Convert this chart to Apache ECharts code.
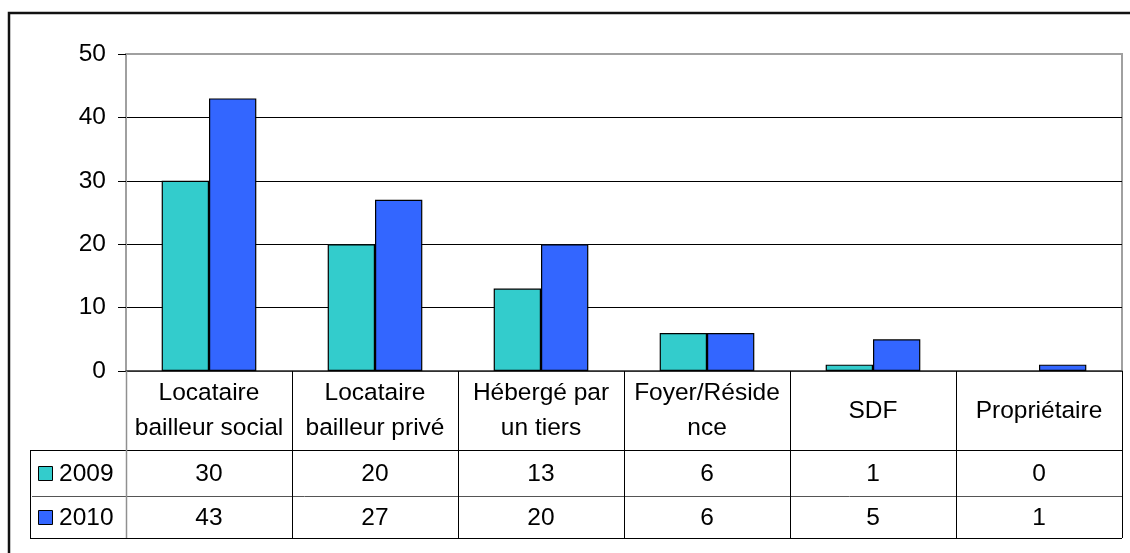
<!DOCTYPE html>
<html>
<head>
<meta charset="utf-8">
<script src="https://cdn.jsdelivr.net/npm/echarts@6/dist/echarts.min.js"></script>
<style>
html,body{margin:0;padding:0;background:#fff;}
#chart{width:1130px;height:553px;}
</style>
</head>
<body>
<div id="chart"></div>
<script>
// ---- data ----
const categories = ['Locataire\nbailleur social', 'Locataire\nbailleur privé', 'Hébergé par\nun tiers', 'Foyer/Réside\nnce', 'SDF', 'Propriétaire'];
const seriesNames = ['2009', '2010'];
const values2009 = [30, 20, 13, 6, 1, 0];
const values2010 = [43, 27, 20, 6, 5, 1];
const yMin = 0, yMax = 50, yStep = 10;

// ---- style ----
const colors = ['#33CCCC', '#3366FF'];
const FONT = '"Liberation Sans", Arial, sans-serif';
const FS = 24.5;

const chart = echarts.init(document.getElementById('chart'), null, {renderer: 'canvas'});

function barData(vals) {
  return vals.map(v => v === 0 ? {value: v, itemStyle: {borderWidth: 0}} : v);
}

const option = {
  animation: false,
  backgroundColor: '#fff',
  grid: {left: 126, right: 8, top: 54, bottom: 182, show: true, borderColor: '#a0a0a0', borderWidth: 2, backgroundColor: 'transparent'},
  xAxis: {
    type: 'category',
    data: categories,
    axisLine: {show: true, lineStyle: {color: '#404040', width: 1.5}},
    axisTick: {show: false},
    axisLabel: {interval: 0, margin: 40, verticalAlign: 'middle', lineHeight: 35, fontSize: FS, fontFamily: FONT, color: '#000'},
    splitLine: {show: false}
  },
  yAxis: {
    type: 'value', min: yMin, max: yMax, interval: yStep,
    axisLine: {show: true, lineStyle: {color: '#a0a0a0', width: 2}},
    axisTick: {show: true, length: 8, lineStyle: {color: '#000', width: 1}},
    axisLabel: {margin: 20, fontSize: FS, fontFamily: FONT, color: '#000'},
    splitLine: {show: true, lineStyle: {color: ['#000', '#000', '#000', '#000', '#000', '#a0a0a0'], width: 1}}
  },
  series: [
    {name: seriesNames[0], type: 'bar', data: barData(values2009), barGap: '0%', barCategoryGap: '43%',
     itemStyle: {color: colors[0], borderColor: '#000', borderWidth: 1.2}},
    {name: seriesNames[1], type: 'bar', data: barData(values2010), barGap: '0%', barCategoryGap: '43%',
     itemStyle: {color: colors[1], borderColor: '#000', borderWidth: 1.2}}
  ]
};
chart.setOption(option);

// ---- data table below the plot, positioned from the axes ----
const c0 = chart.convertToPixel({xAxisIndex: 0}, 0);
const c1 = chart.convertToPixel({xAxisIndex: 0}, 1);
const bw = c1 - c0;
const xLeft = c0 - bw / 2;
const xRight = xLeft + bw * categories.length;
const yZero = chart.convertToPixel({yAxisIndex: 0}, 0);
const headerH = 79, row1H = 46, row2H = 42, legendLeft = 30;
const yRow1 = yZero + headerH, yRow2 = yRow1 + row1H, yEnd = yRow2 + row2H;
const px = v => Math.round(v) + 0.5;

const g = [];
function line(x1, y1, x2, y2, color, w) {
  g.push({type: 'line', silent: true, z: 10, shape: {x1: x1, y1: y1, x2: x2, y2: y2}, style: {stroke: color, lineWidth: w || 1}});
}
function text(t, x, y, align) {
  g.push({type: 'text', silent: true, z: 11, style: {text: t, x: x, y: y, fill: '#000', fontSize: FS, fontFamily: FONT, align: align || 'center', verticalAlign: 'middle'}});
}
// outer frame
g.push({type: 'rect', silent: true, z: 12, shape: {x: 9, y: 13, width: 1200, height: 700}, style: {fill: 'none', stroke: '#111', lineWidth: 2.5}});
// horizontal lines
line(legendLeft, px(yRow1), xRight, px(yRow1), '#000');
line(legendLeft + 2, px(yRow2), xRight, px(yRow2), '#555');
line(legendLeft, px(yEnd), xRight, px(yEnd), '#000');
line(px(legendLeft), yRow1, px(legendLeft), yEnd, '#000');
// vertical lines
for (let i = 0; i <= categories.length; i++) {
  const x = px(xLeft + i * bw);
  line(x, yZero, x, yEnd, i === 0 ? '#909090' : '#000', i === 0 ? 1.5 : 1);
}
// legend keys and values
const rows = [{y: (yRow1 + yRow2) / 2, vals: values2009}, {y: (yRow2 + yEnd) / 2, vals: values2010}];
rows.forEach((r, k) => {
  g.push({type: 'rect', silent: true, z: 11, shape: {x: legendLeft + 8.5, y: Math.round(r.y - 7) + 0.5, width: 14, height: 14}, style: {fill: colors[k], stroke: '#000', lineWidth: 1}});
  text(seriesNames[k], legendLeft + 29, r.y + 1, 'left');
  r.vals.forEach((v, i) => text(String(v), xLeft + (i + 0.5) * bw, r.y + 1));
});
chart.setOption({graphic: g});
</script>
</body>
</html>
